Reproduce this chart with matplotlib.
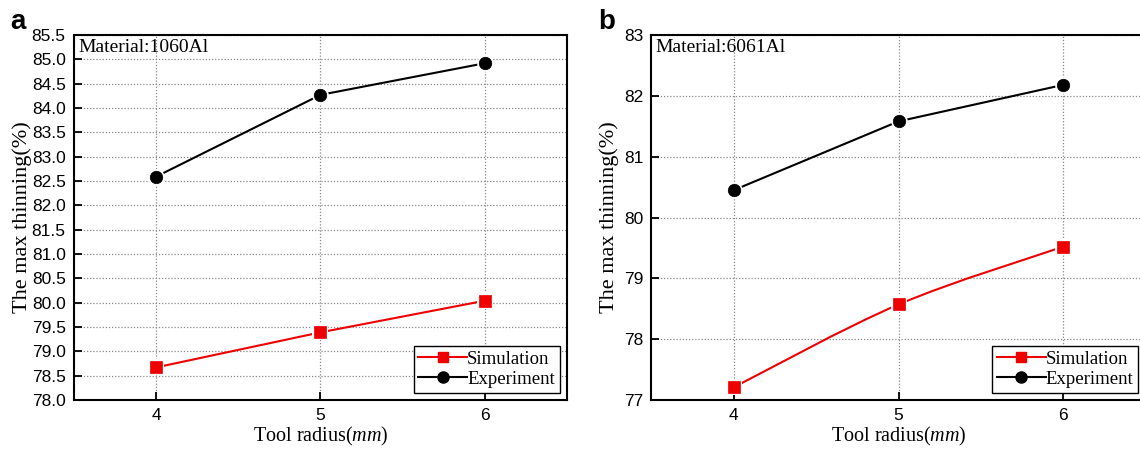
import matplotlib
matplotlib.use("Agg")
import matplotlib.pyplot as plt
from matplotlib.lines import Line2D
from matplotlib.path import Path
from matplotlib.patches import PathPatch
from matplotlib.ticker import MultipleLocator, FormatStrFormatter

# Tool radius (mm)
radius = [4, 5, 6]

# Panel a: 1060Al
sim_1060 = [78.67, 79.39, 80.04]
exp_1060 = [82.59, 84.27, 84.92]

# Panel b: 6061Al
sim_6061 = [77.21, 78.57, 79.52]
exp_6061 = [80.45, 81.58, 82.18]

SANS = "Liberation Sans"
SERIF = "Liberation Serif"
RED = "#ee0000"


def spline_path(xs, ys):
    """Catmull-Rom style cubic Bezier through the given points."""
    n = len(xs)
    verts = [(xs[0], ys[0])]
    codes = [Path.MOVETO]
    for i in range(n - 1):
        x0, y0 = (xs[i - 1], ys[i - 1]) if i > 0 else (xs[i], ys[i])
        x1, y1 = xs[i], ys[i]
        x2, y2 = xs[i + 1], ys[i + 1]
        x3, y3 = (xs[i + 2], ys[i + 2]) if i + 2 < n else (x2, y2)
        c1 = (x1 + (x2 - x0) / 6.0, y1 + (y2 - y0) / 6.0)
        c2 = (x2 - (x3 - x1) / 6.0, y2 - (y3 - y1) / 6.0)
        verts += [c1, c2, (x2, y2)]
        codes += [Path.CURVE4] * 3
    return Path(verts, codes)


def draw_series(ax, x, y, color, marker, ms, smooth=False):
    if smooth:
        ax.add_patch(PathPatch(spline_path(x, y), fill=False, edgecolor=color,
                               lw=1.5, transform=ax.transData, zorder=3))
    else:
        ax.plot(x, y, color=color, lw=1.5, zorder=3)
    # white halo leaves a small gap between line and marker
    ax.plot(x, y, ls="none", marker=marker, ms=ms + 3, color="white",
            mec="white", mew=0, zorder=4)
    ax.plot(x, y, ls="none", marker=marker, ms=ms, color=color,
            mec=color, mew=0.5, zorder=5)


def style_axes(ax, ylim, ystep, yfmt, material, letter, letter_x, ylab_x):
    ax.set_xlim(3.5, 6.5)
    ax.set_ylim(*ylim)
    ax.set_xticks(radius)
    ax.yaxis.set_major_locator(MultipleLocator(ystep))
    ax.yaxis.set_major_formatter(FormatStrFormatter(yfmt))
    ax.tick_params(direction="in", length=6, width=1.3, labelsize=12.5,
                   top=False, right=False, pad=6)
    for lab in ax.get_xticklabels() + ax.get_yticklabels():
        lab.set_fontfamily(SANS)
    for sp in ax.spines.values():
        sp.set_linewidth(1.5)
    ax.grid(True, ls=(0, (1, 1.5)), color="#888888", lw=0.9)
    ax.set_axisbelow(True)
    ax.set_ylabel("The max thinning(%)", family=SERIF, fontsize=16)
    ax.yaxis.set_label_coords(ylab_x, 0.5)
    ax.set_xlabel(r"Tool radius($\mathit{mm}$)", family=SERIF, fontsize=14.5,
                  labelpad=1)
    ax.text(0.008, 0.99, material, transform=ax.transAxes, family=SERIF,
            fontsize=14, va="top", ha="left")
    ax.figure.text(letter_x, 1 - 29 / 451, letter, family=SANS, fontsize=20,
                   fontweight="bold", va="baseline", ha="left")
    handles = [
        Line2D([], [], color=RED, lw=1.5, marker="s", ms=7.5, mec=RED),
        Line2D([], [], color="black", lw=1.5, marker="o", ms=8, mec="black"),
    ]
    ax.legend(handles, ["Simulation", "Experiment"], loc="lower right",
              prop={"family": SERIF, "size": 13.5}, frameon=True, fancybox=False,
              edgecolor="black", framealpha=1, handlelength=2.6,
              handletextpad=0.0, borderpad=0.25, labelspacing=0.15,
              borderaxespad=0.4).get_frame().set_linewidth(1.0)


plt.rcParams.update({"mathtext.fontset": "custom",
                     "mathtext.it": "Liberation Serif:italic",
                     "mathtext.rm": "Liberation Serif"})

fig = plt.figure(figsize=(11.4, 4.51), dpi=100)
ax1 = fig.add_axes([74 / 1140, 51 / 451, 493 / 1140, 365 / 451])
ax2 = fig.add_axes([651.5 / 1140, 51 / 451, 494 / 1140, 365 / 451])

draw_series(ax1, radius, sim_1060, RED, "s", 8)
draw_series(ax1, radius, exp_1060, "black", "o", 9)
style_axes(ax1, (78.0, 85.5), 0.5, "%.1f", "Material:1060Al", "a",
           10 / 1140, -0.086)

draw_series(ax2, radius, sim_6061, RED, "s", 8, smooth=True)
draw_series(ax2, radius, exp_6061, "black", "o", 9)
style_axes(ax2, (77, 83), 1, "%d", "Material:6061Al", "b",
           598 / 1140, -0.066)

fig.savefig("out.png", dpi=100)
